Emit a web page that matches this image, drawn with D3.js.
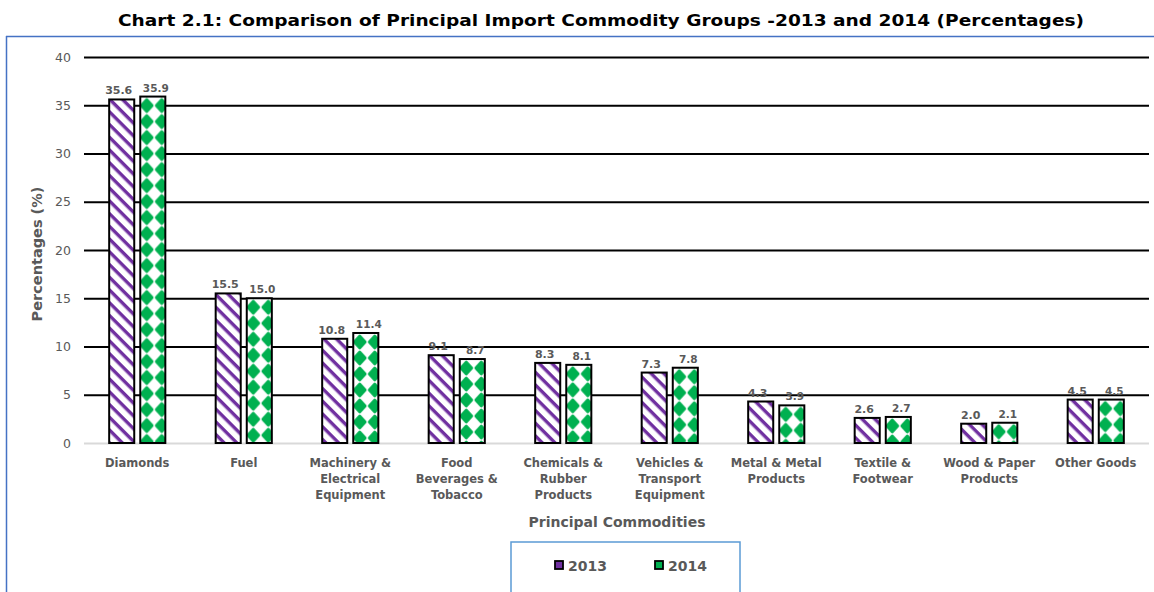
<!DOCTYPE html>
<html><head><meta charset="utf-8">
<script src="https://cdn.jsdelivr.net/npm/d3@7"></script>
<style>body{margin:0;background:#fff}svg{display:block}</style>
</head><body>
<script>
const categories = [
  ["Diamonds"], ["Fuel"], ["Machinery &","Electrical","Equipment"],
  ["Food","Beverages &","Tobacco"], ["Chemicals &","Rubber","Products"],
  ["Vehicles &","Transport","Equipment"], ["Metal & Metal","Products"],
  ["Textile &","Footwear"], ["Wood & Paper","Products"], ["Other Goods"]
];
const series2013 = [35.6, 15.5, 10.8, 9.1, 8.3, 7.3, 4.3, 2.6, 2.0, 4.5];
const series2014 = [35.9, 15.0, 11.4, 8.7, 8.1, 7.8, 3.9, 2.7, 2.1, 4.5];
const seriesNames = ["2013", "2014"];
const yTicks = [0, 5, 10, 15, 20, 25, 30, 35, 40];

const W = 1154, H = 592;
const FONT = "'DejaVu Sans',sans-serif";
const svg = d3.select("body").append("svg").attr("width", W).attr("height", H);
const defs = svg.append("defs");

// stripe pattern (2013)
const p1 = defs.append("pattern").attr("id","stripe").attr("patternUnits","userSpaceOnUse")
  .attr("width",9).attr("height",9).attr("patternTransform","rotate(45)");
p1.append("rect").attr("width",9).attr("height",9).attr("fill","#fff");
p1.append("rect").attr("width",9).attr("height",3.4).attr("fill","#7030a0");

function diamondPattern(id, x0, y0){
  const p = defs.append("pattern").attr("id",id).attr("patternUnits","userSpaceOnUse")
    .attr("width",15).attr("height",16).attr("x",x0).attr("y",y0);
  p.append("rect").attr("width",15).attr("height",16).attr("fill","#fff");
  p.append("path").attr("d","M7.5,2 L13,8 L7.5,14 L2,8 Z").attr("fill","#00b050")
    .attr("stroke","#00b050").attr("stroke-width",2.6).attr("stroke-linejoin","round");
}

const m = {l:84, r:1149, t:57, b:443};
const x = d3.scaleBand().domain(d3.range(categories.length)).range([m.l, m.r]);
const xs = d3.scaleBand().domain(seriesNames).range([0, x.bandwidth()]).paddingInner(0.194).paddingOuter(0.81);
const y = d3.scaleLinear().domain([0, 40]).range([m.b, m.t]);

// frame
svg.append("line").attr("x1",6).attr("x2",W).attr("y1",36.5).attr("y2",36.5).attr("stroke","#4472c4").attr("stroke-width",1.5);
svg.append("line").attr("x1",6.5).attr("x2",6.5).attr("y1",36).attr("y2",H).attr("stroke","#4472c4").attr("stroke-width",1.5);

// title
svg.append("text").attr("x",601).attr("y",26).attr("text-anchor","middle")
  .attr("font-family",FONT).attr("font-weight","bold").attr("font-size",16.5).attr("fill","#000")
  .attr("textLength",966).attr("lengthAdjust","spacingAndGlyphs")
  .text("Chart 2.1: Comparison of Principal Import Commodity Groups -2013 and 2014 (Percentages)");

// gridlines
const yAxis = d3.axisLeft(y).tickValues(yTicks).tickSize(-(m.r - m.l)).tickPadding(13);
const ga = svg.append("g").attr("transform",`translate(${m.l},0)`).call(yAxis);
ga.select(".domain").remove();
ga.selectAll(".tick line").attr("stroke", d => d === 0 ? "#d9d9d9" : "#000").attr("stroke-width",2);
ga.selectAll(".tick text").attr("font-family",FONT).attr("font-size",12.5).attr("fill","#595959");

// bars
const data = [];
categories.forEach((c,i)=>{
  data.push({i, s:"2013", v:series2013[i]});
  data.push({i, s:"2014", v:series2014[i]});
});
data.forEach((d,k)=>{
  d.x = x(d.i) + xs(d.s);
  if (d.s === "2014") { diamondPattern("diam"+k, d.x - 1, y(d.v) + 1); d.fill = `url(#diam${k})`; }
  else d.fill = "url(#stripe)";
});
svg.append("g").selectAll("rect").data(data).join("rect")
  .attr("x", d => d.x)
  .attr("y", d => y(d.v))
  .attr("width", xs.bandwidth())
  .attr("height", d => y(0) - y(d.v))
  .attr("fill", d => d.fill)
  .attr("stroke","#000").attr("stroke-width",2);

svg.append("g").selectAll("text").data(data).join("text")
  .attr("x", d => d.x + xs.bandwidth()/2 + (d.s === "2013" ? -3 : 3))
  .attr("y", d => y(d.v) - 5)
  .attr("text-anchor","middle").attr("font-family",FONT).attr("font-weight","bold")
  .attr("font-size", d => d.s === "2013" ? 11 : 10.5).attr("fill","#595959")
  .text(d => d.v.toFixed(1));

// category labels
const cl = svg.append("g").selectAll("text").data(categories).join("text")
  .attr("text-anchor","middle").attr("font-family",FONT).attr("font-weight","bold")
  .attr("font-size",11.5).attr("fill","#595959");
cl.each(function(c,i){
  const t = d3.select(this);
  c.forEach((line,j)=>{
    t.append("tspan").attr("x", x(i) + x.bandwidth()/2).attr("y", 467 + j*16).text(line);
  });
});

// axis titles
svg.append("text").attr("transform","translate(42,254) rotate(-90)").attr("text-anchor","middle")
  .attr("font-family",FONT).attr("font-weight","bold").attr("font-size",14.5).attr("fill","#595959")
  .text("Percentages (%)");
svg.append("text").attr("x",617).attr("y",527).attr("text-anchor","middle")
  .attr("font-family",FONT).attr("font-weight","bold").attr("font-size",14).attr("fill","#595959")
  .text("Principal Commodities");

// legend
svg.append("rect").attr("x",511).attr("y",542).attr("width",229).attr("height",60)
  .attr("fill","#fff").attr("stroke","#5b9bd5").attr("stroke-width",1.5);
const lg = svg.append("g").selectAll("g").data(seriesNames).join("g")
  .attr("transform",(d,i)=>`translate(${555 + i*100},567)`);
lg.append("rect").attr("x",0).attr("y",-6).attr("width",8).attr("height",8)
  .attr("fill", d => d === "2013" ? "#7030a0" : "#00b050").attr("stroke","#000").attr("stroke-width",1.8);
lg.append("text").attr("x",13).attr("y",4).attr("font-family",FONT).attr("font-weight","bold")
  .attr("font-size",14).attr("fill","#595959").text(d=>d);
</script>
</body></html>
